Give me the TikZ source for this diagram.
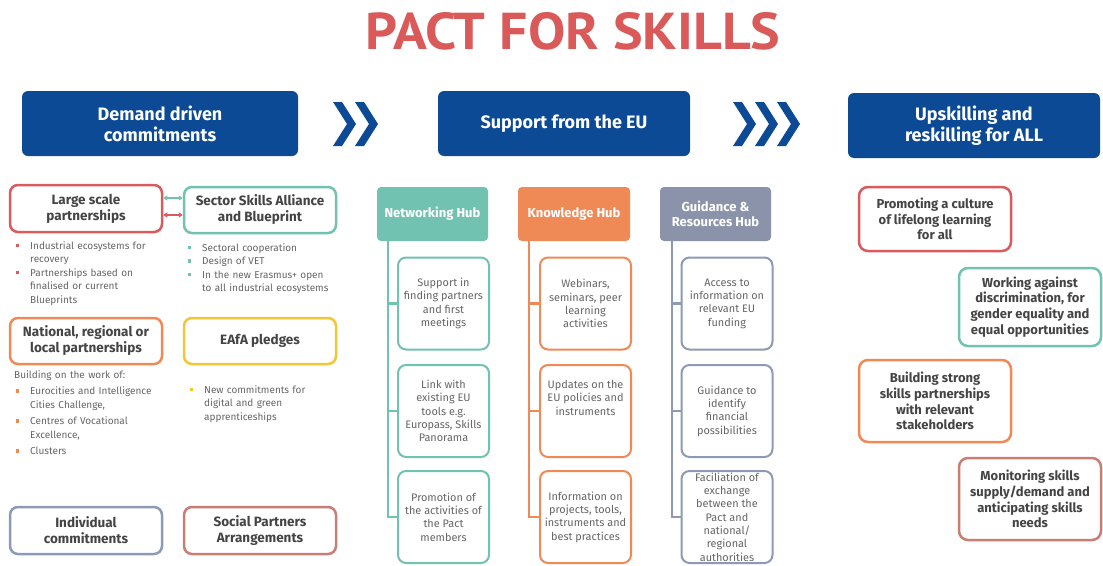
\documentclass[tikz,border=0pt]{standalone}
\usepackage{fontspec}
\setmainfont{Fira Sans}
\newfontfamily\titlefont{PT Sans}
\usetikzlibrary{arrows.meta}

\definecolor{eublue}{HTML}{0C4A96}
\definecolor{titlered}{HTML}{DA5A5A}
\definecolor{cred}{HTML}{D95B5E}
\definecolor{cteal}{HTML}{72C2B1}
\definecolor{corange}{HTML}{EF8A57}
\definecolor{cyellow}{HTML}{F4C534}
\definecolor{cslate}{HTML}{8D9AB3}
\definecolor{cbrown}{HTML}{C97E74}
\definecolor{hubgray}{HTML}{8A93A9}
\definecolor{txtgray}{HTML}{666666}
\definecolor{txtdark}{HTML}{444444}

% bullet item with hanging indent
\newcommand\litem[2]{\noindent\hangindent=14pt\hangafter=1\makebox[14pt][l]{\textcolor{#1}{\rule[2pt]{3.2pt}{3.2pt}}}#2\par}

\tikzset{
  headbox/.style={fill=eublue, rounded corners=6pt, text=white, align=center,
    font=\bfseries\fontsize{18}{21}\selectfont, minimum height=65, inner sep=0},
  framebox/.style={draw=#1, line width=2.5pt, rounded corners=8pt, fill=white,
    align=center, text=txtdark, font=\bfseries\fontsize{13.5}{16}\selectfont,
    minimum width=152, minimum height=47, inner sep=1pt},
  hubbox/.style={fill=#1, rounded corners=4pt, text=white, align=center,
    font=\bfseries\fontsize{13}{15}\selectfont, minimum width=111, minimum height=54, inner sep=0},
  subbox/.style={draw=#1, line width=2pt, rounded corners=8pt, fill=white, align=center,
    text=txtgray, font=\fontsize{10.9}{13.3}\selectfont, minimum width=91, minimum height=92, inner sep=0},
  rightbox/.style={draw=#1, line width=2.5pt, rounded corners=9pt, fill=white, align=center,
    text=txtdark, font=\bfseries\fontsize{13}{15.7}\selectfont, inner sep=0},
  trunk/.style={draw=#1, line width=2.5pt},
  bulletlist/.style={anchor=north west, text width=170pt, align=left, inner sep=0,
    text=txtgray, font=\fontsize{10}{13.5}\selectfont},
  twoway/.style={draw=#1, line width=1.2pt, {Triangle[length=4pt,width=5pt]}-{Triangle[length=4pt,width=5pt]}},
  chevron/.style={fill=eublue}
}

\begin{document}
\begin{tikzpicture}[x=1pt, y=-1pt]
\useasboundingbox[fill=white] (0,0) rectangle (1103,565);

% title
\node[inner sep=0, text=titlered] (title) at (573,31.5)
  {\resizebox{415pt}{37pt}{\titlefont\bfseries PACT FOR SKILLS}};

% three stages
\node[headbox, minimum width=276] (stage1) at (160,123.5) {Demand driven\\commitments};
\node[headbox, minimum width=252] (stage2) at (564,123.5) {Support from the EU};
\node[headbox, minimum width=252] (stage3) at (974,125.5) {Upskilling and\\reskilling for ALL};

% chevrons between stages
\foreach \cx in {333,355}{
  \fill[chevron] (\cx,102) -- ++(9,0) -- ++(14,22) -- ++(-14,22) -- ++(-9,0) -- ++(14,-22) -- cycle;
}
\foreach \cx in {733,755,777}{
  \fill[chevron] (\cx,102) -- ++(9,0) -- ++(14,22) -- ++(-14,22) -- ++(-9,0) -- ++(14,-22) -- cycle;
}

% demand driven commitments
\node[framebox=cred]    (lsp)  at (86,208.5) {Large scale\\partnerships};
\node[framebox=cteal, minimum height=46] (ssa) at (260,210) {Sector Skills Alliance\\and Blueprint};
\node[framebox=corange, minimum height=46] (nrl) at (86,341) {National, regional or\\local partnerships};
\node[framebox=cyellow, minimum height=46] (eafa) at (260,341) {EAfA pledges};
\node[framebox=cslate]  (ind)  at (86,530.5) {Individual\\commitments};
\node[framebox=cbrown]  (spa)  at (260,530.5) {Social Partners\\Arrangements};

\draw[twoway=cteal] ([yshift=10.5pt]lsp.east) -- ([yshift=10.5pt]lsp.east -| ssa.west);
\draw[twoway=cred]  ([yshift=-6.5pt]lsp.east) -- ([yshift=-6.5pt]lsp.east -| ssa.west);

\node[bulletlist] (lspl) at (16,241) {%
  \litem{cred}{Industrial ecosystems for\newline recovery}%
  \litem{cred}{Partnerships based on\newline finalised or current\newline Blueprints}};
\node[bulletlist] (ssal) at (188,243) {%
  \litem{cteal}{Sectoral cooperation}%
  \litem{cteal}{Design of VET}%
  \litem{cteal}{In the new Erasmus+ open\newline to all industrial ecosystems}};
\node[bulletlist] (nrll) at (14,370) {%
  \noindent Building on the work of:\par\vspace{3pt}%
  \hspace*{2pt}\parbox[t]{160pt}{\parskip=3pt
  \litem{corange}{Eurocities and Intelligence\newline Cities Challenge,}%
  \litem{corange}{Centres of Vocational\newline Excellence,}%
  \litem{corange}{Clusters}}};
\node[bulletlist] (eafal) at (190,385) {%
  \litem{cyellow}{New commitments for\newline digital and green\newline apprenticeships}};

% support from the EU: hubs
\node[hubbox=cteal]   (nh) at (432.5,214) {Networking Hub};
\node[hubbox=corange, minimum width=112] (kh) at (574,214) {Knowledge Hub};
\node[hubbox=hubgray] (gh) at (715.5,214) {Guidance \&\\Resources Hub};

\node[subbox=cteal] (n1) at (443.5,303.5) {Support in\\finding partners\\and first\\meetings};
\node[subbox=cteal] (n2) at (443.5,411) {Link with\\existing EU\\tools e.g.\\Europass, Skills\\Panorama};
\node[subbox=cteal] (n3) at (443.5,517) {Promotion of\\the activities of\\the Pact\\members};

\node[subbox=corange] (k1) at (585.5,303.5) {Webinars,\\seminars, peer\\learning\\activities};
\node[subbox=corange] (k2) at (585.5,411) {Updates on the\\EU policies and\\instruments\\[13pt]};
\node[subbox=corange] (k3) at (585.5,517) {Information on\\projects, tools,\\instruments and\\best practices};

\node[subbox=cslate] (g1) at (727,303.5) {Access to\\information on\\relevant EU\\funding};
\node[subbox=cslate] (g2) at (727,411) {Guidance to\\identify\\financial\\possibilities};
\node[subbox=cslate] (g3) at (727,517) {Faciliation of\\exchange\\between the\\Pact and\\national/\\regional\\authorities};

\coordinate (nt) at (388,241);
\coordinate (kt) at (529,241);
\coordinate (gt) at (672,241);
\draw[trunk=cteal] (nt) |- (n3.west);
\draw[trunk=cteal] (n1.west -| nt) -- (n1.west);
\draw[trunk=cteal] (n2.west -| nt) -- (n2.west);
\draw[trunk=corange] (kt) |- (k3.west);
\draw[trunk=corange] (k1.west -| kt) -- (k1.west);
\draw[trunk=corange] (k2.west -| kt) -- (k2.west);
\draw[trunk=cslate] (gt) |- (g3.west);
\draw[trunk=cslate] (g1.west -| gt) -- (g1.west);
\draw[trunk=cslate] (g2.west -| gt) -- (g2.west);

% upskilling and reskilling
\node[rightbox=cred, minimum width=152, minimum height=64] (r1) at (935,219)
  {Promoting a culture\\of lifelong learning\\for all};
\node[rightbox=cteal, minimum width=142, minimum height=78] (r2) at (1030,307)
  {Working against\\discrimination, for\\gender equality and\\equal opportunities};
\node[rightbox=corange, minimum width=152, minimum height=82] (r3) at (935,401)
  {Building strong\\skills partnerships\\with relevant\\stakeholders};
\node[rightbox=cbrown, minimum width=142, minimum height=82] (r4) at (1030,499)
  {Monitoring skills\\supply/demand and\\anticipating skills\\needs};
\end{tikzpicture}
\end{document}
